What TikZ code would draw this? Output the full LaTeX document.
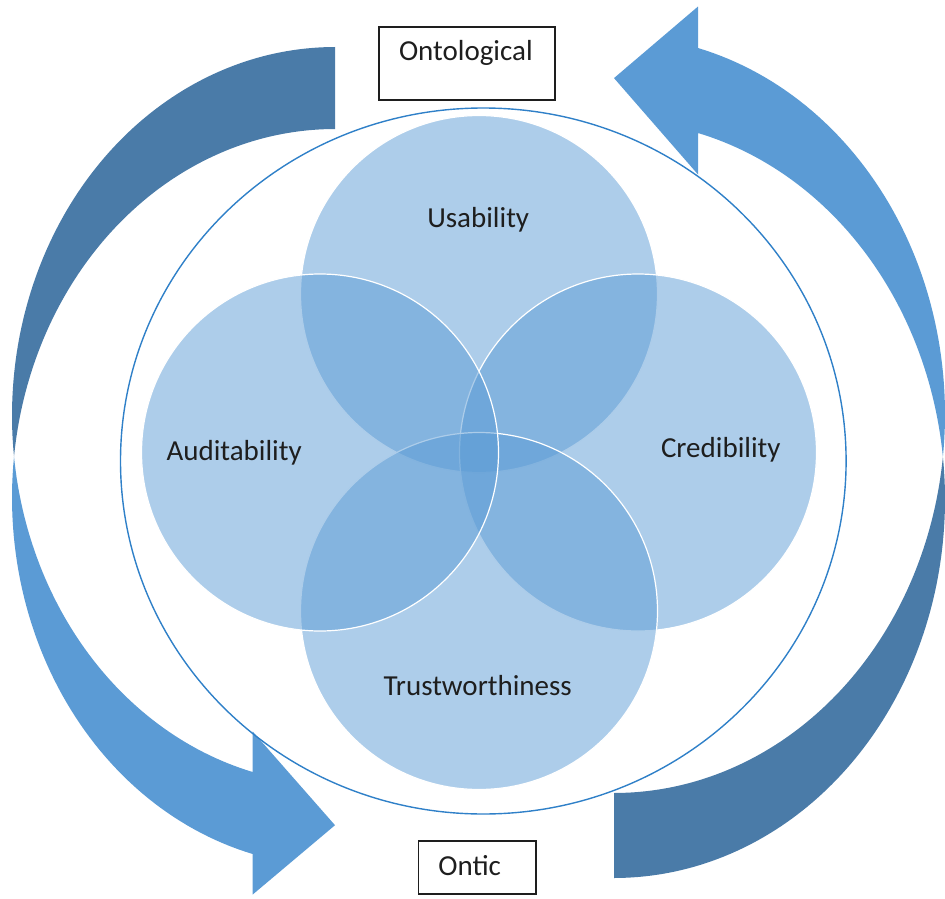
\documentclass[tikz,border=0pt]{standalone}
\usepackage{fontspec}
\setmainfont{Carlito}
\usetikzlibrary{shapes.geometric}

\definecolor{accent}{HTML}{5B9BD5}
\definecolor{accentdark}{HTML}{4A7BA8}
\definecolor{ringblue}{HTML}{2F80C8}
\definecolor{inkgray}{HTML}{1E1E1E}

% Twisted curved arrow band: back part (dark) and front part with head (light).
% Local frame: origin at the tail end of the outer edge, y pointing down,
% the band bends to the left and the head points right at the bottom.
% #1 horizontal radius, #2 vertical radius, #3 band thickness,
% #4 head length, #5 head width
\newcommand\curvedband[5]{%
  \pgfmathsetmacro\cbAl{asin(#3/(2*#2))}%
  \pgfmathsetmacro\cbBe{acos(-#4/#1)}%
  \pgfmathsetmacro\cbEa{180-\cbAl}%
  \pgfmathsetmacro\cbEb{180+\cbAl}%
  \pgfmathsetmacro\cbYfive{#2+#2*sin(\cbBe)}%
  \pgfmathsetmacro\cbYseven{\cbYfive+#3}%
  \pgfmathsetmacro\cbDh{(#5-#3)/2}%
  \pgfmathsetmacro\cbYfour{\cbYfive-\cbDh}%
  \pgfmathsetmacro\cbYeight{\cbYseven+\cbDh}%
  \pgfmathsetmacro\cbYsix{2*#2+#3/2}%
  \fill[accentdark] plot[domain=270:\cbEa, samples=90] ({#1*cos(\x)},{#2+#2*sin(\x)})
     -- plot[domain=\cbEb:270, samples=90] ({#1*cos(\x)},{#2+#3+#2*sin(\x)}) -- cycle;
  \fill[accent] plot[domain=\cbEa:\cbBe, samples=60] ({#1*cos(\x)},{#2+#2*sin(\x)})
     -- (-#4,\cbYfour) -- (0,\cbYsix) -- (-#4,\cbYeight) -- (-#4,\cbYseven)
     -- plot[domain=\cbBe:\cbEb, samples=60] ({#1*cos(\x)},{#2+#3+#2*sin(\x)}) -- cycle;
}

\newcommand\labelfont{\fontsize{29pt}{34pt}\selectfont}

\tikzset{
  venn/.style={circle, minimum size=357pt, inner sep=0pt, outer sep=0pt,
    fill=accent, fill opacity=0.5, draw=white, line width=1.2pt},
  lbl/.style={font=\labelfont, text=inkgray, inner sep=0pt, anchor=base},
  tagbox/.style={draw=inkgray, line width=1.5pt, fill=white, inner xsep=20pt,
    inner ysep=0pt, align=left, font=\labelfont, text=inkgray},
}

\begin{document}
\begin{tikzpicture}[x=1pt, y=-1pt]
  \useasboundingbox (0,0) rectangle (945,899);

  % circular arrows
  \begin{scope}[shift={(335,47)}]
    \curvedband{323}{368.6}{82}{82.3}{163}
  \end{scope}
  \begin{scope}[shift={(614,878)}, rotate=180]
    \curvedband{331}{378.7}{85}{84}{168}
  \end{scope}

  % enclosing ring
  \node[ellipse, draw=ringblue, line width=1.4pt, minimum width=725.6pt,
        minimum height=706pt, inner sep=0pt] (ring) at (483.3,461) {};

  % four overlapping circles
  \node[venn] (usab)  at (479,294)   {};
  \node[venn] (cred)  at (638,452.5) {};
  \node[venn] (trust) at (479,611)   {};
  \node[venn] (audit) at (320,452.5) {};

  \node[lbl] (usabtxt)  at (478.2,227) {Usability};
  \node[lbl] (credtxt)  at (720.8,457) {Credibility};
  \node[lbl] (trusttxt) at (477.7,695) {Trustworthiness};
  \node[lbl] (audittxt) at (234.2,460) {Auditability};

  % level tags
  \node[tagbox, text width=136pt, minimum height=73pt, text height=20pt,
        text depth=25pt] (ontol) at (467,63.5) {Ontological};
  \node[tagbox, text width=77.7pt, minimum height=53.3pt, text height=20pt,
        text depth=4.8pt] (ontic) at (477.2,867.4) {Ontic};
\end{tikzpicture}
\end{document}
